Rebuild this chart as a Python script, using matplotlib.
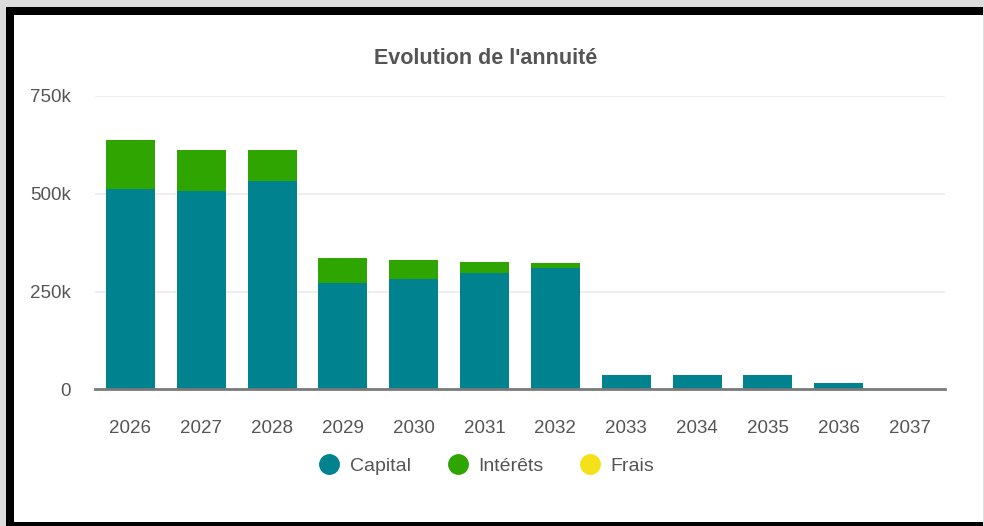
import matplotlib.pyplot as plt
from matplotlib.patches import Rectangle
from matplotlib.lines import Line2D
from matplotlib.ticker import FuncFormatter

# Données (en milliers d'euros)
annees = ['2026', '2027', '2028', '2029', '2030', '2031', '2032',
          '2033', '2034', '2035', '2036', '2037']
capital = [511, 507, 532, 271, 283, 297, 309, 36, 36, 36, 15, 0]
interets = [126, 104, 80, 65, 48, 29, 14, 1, 1, 1, 0.5, 0]
frais = [0, 0, 0, 0, 0, 0, 0, 0, 0, 0, 0, 0]

c_capital = '#00838f'
c_interets = '#2ea500'
c_frais = '#f5e11a'
c_texte = '#555555'

plt.rcParams['font.family'] = ['Liberation Sans', 'DejaVu Sans']

fig = plt.figure(figsize=(9.84, 5.26), dpi=100)
fig.patch.set_facecolor('#dcdcdc')

# Cadre noir + fond blanc
W, H = 984, 526
fig.patches.append(Rectangle((6 / W, 0), 977 / W, (H - 7) / H,
                             transform=fig.transFigure, facecolor='black', zorder=-2))
fig.patches.append(Rectangle((14 / W, (H - 521.7) / H), 968.5 / W, (521.7 - 15) / H,
                             transform=fig.transFigure, facecolor='white', zorder=-1))

ax = fig.add_axes([95 / W, 1 - 389.3 / H, 850 / W, 293.3 / H])
ax.set_facecolor('none')

x = range(len(annees))
base2 = [c + i for c, i in zip(capital, interets)]
ax.bar(x, capital, width=0.69, color=c_capital, zorder=3)
ax.bar(x, interets, width=0.69, bottom=capital, color=c_interets, zorder=3)
ax.bar(x, frais, width=0.69, bottom=base2, color=c_frais, zorder=3)

ax.set_xlim(-0.5, 11.5)
ax.set_ylim(0, 750)
ax.set_yticks([0, 250, 500, 750])
ax.yaxis.set_major_formatter(FuncFormatter(lambda v, p: '0' if v == 0 else f'{int(v)}k'))
ax.set_xticks(list(x))
ax.set_xticklabels(annees)

ax.grid(axis='y', color='#ebebeb', linewidth=1.2, zorder=0)
for s in ['top', 'right', 'left']:
    ax.spines[s].set_visible(False)
ax.spines['bottom'].set_color('#7a7a7a')
ax.spines['bottom'].set_linewidth(2)
ax.spines['bottom'].set_zorder(4)
ax.tick_params(axis='both', length=0, labelsize=13.5, colors=c_texte)
ax.tick_params(axis='y', pad=17.5)
ax.tick_params(axis='x', pad=22)

fig.text(486 / W, 1 - 59 / H, "Evolution de l'annuité", ha='center', va='center',
         fontsize=15.5, fontweight='bold', color=c_texte)

handles = [Line2D([], [], marker='o', linestyle='', markersize=14, color=c, label=l)
           for c, l in [(c_capital, 'Capital'), (c_interets, 'Intérêts'), (c_frais, 'Frais')]]
fig.legend(handles=handles, loc='center', bbox_to_anchor=(482 / W, 1 - 466 / H), ncol=3,
           frameon=False, fontsize=14, labelcolor=c_texte, handletextpad=0.05,
           columnspacing=1.4)

fig.savefig('out.png', dpi=100, facecolor=fig.get_facecolor())
